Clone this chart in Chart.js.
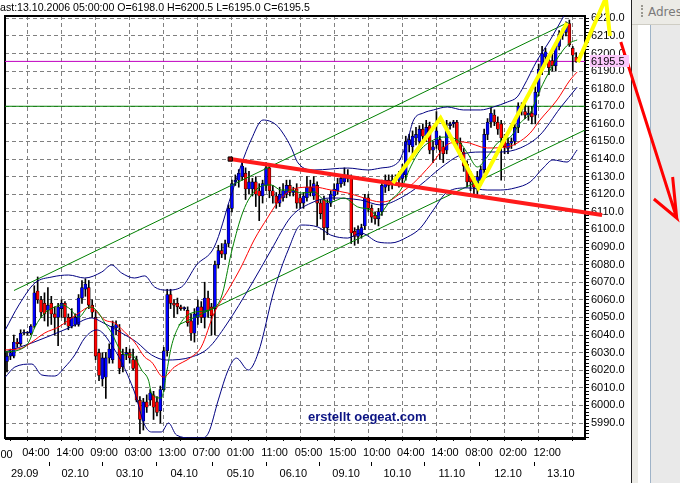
<!DOCTYPE html>
<html>
<head>
<meta charset="utf-8">
<script src="https://cdn.jsdelivr.net/npm/chart.js@4.4.1/dist/chart.umd.min.js"></script>
<style>
html, body { margin: 0; padding: 0; background: #fff; overflow: hidden; }
#wrap { position: relative; width: 680px; height: 483px; }
#side { position: absolute; left: 631px; top: 0; width: 49px; height: 483px; background: #ecebe6; border-left: 1px solid #222; }
#side .bar { position: absolute; left: 0; top: 0; width: 49px; height: 24px; border-bottom: 1px solid #cfcdc4; }
#side .grip { position: absolute; left: 9px; top: 5px; width: 1px; height: 12px; border-left: 2px dotted #9a9890; }
#side .lbl { position: absolute; left: 16px; top: 5px; font: 12px "DejaVu Sans", Tahoma, sans-serif; color: #7a7a7a; white-space: nowrap; }
#side .white { position: absolute; left: 6px; top: 25px; width: 12px; height: 458px; background: #fff; border-right: 1px solid #9fb3c8; }
#side .rest { position: absolute; left: 19px; top: 25px; width: 30px; height: 458px; background: #e9e9e9; }
canvas { position: absolute; left: 0; top: 0; }
</style>
</head>
<body>
<div id="wrap">
  <div id="side">
    <div class="bar"><span class="grip"></span><span class="lbl">Adress</span></div>
    <div class="white"></div>
    <div class="rest"></div>
  </div>
  <canvas id="my-chart" width="680" height="483"></canvas>
</div>
<script>
// hourly candles, 29.09 - 13.10.2006
const opens = [6025,6028,6028,6036,6035,6041,6041,6041,6045,6065,6060,6058,6054,6058,6052,6050,6055,6058,6050,6045,
  6046,6046,6061,6066,6067,6057,6050,6030,6015,6016,6027,6026,6044,6043,6022,6029,6030,6026,6026,6003,
  5991,6002,6003,6006,6002,5997,6009,6031,6063,6058,6058,6056,6055,6054,6048,6041,6050,6056,6050,6061,
  6056,6055,6080,6088,6086,6092,6112,6127,6128,6130,6132,6123,6123,6127,6122,6119,6125,6135,6122,6119,
  6115,6118,6120,6125,6121,6123,6118,6115,6118,6124,6119,6125,6115,6117,6101,6115,6119,6122,6126,6127,
  6131,6129,6099,6096,6097,6102,6118,6112,6108,6106,6110,6124,6128,6126,6128,6128,6129,6131,6148,6147,
  6152,6150,6157,6153,6159,6145,6148,6151,6147,6145,6159,6160,6161,6149,6144,6137,6130,6128,6123,6128,
  6134,6154,6161,6165,6161,6160,6152,6146,6149,6150,6158,6168,6167,6165,6166,6165,6178,6191,6198,6196,
  6196,6193,6204,6210,6212,6217,6203,6198];
const highs = [6030,6032,6040,6038,6043,6043,6042,6046,6068,6073,6062,6064,6067,6062,6056,6058,6060,6059,6052,6055,
  6052,6063,6071,6072,6071,6060,6054,6032,6030,6030,6035,6048,6048,6046,6032,6033,6032,6032,6028,6005,
  6004,6006,6009,6008,6005,6011,6033,6066,6066,6060,6061,6057,6056,6056,6052,6055,6060,6059,6070,6065,
  6058,6082,6091,6092,6094,6114,6128,6131,6134,6138,6135,6133,6129,6130,6126,6128,6138,6137,6125,6121,
  6124,6126,6128,6128,6124,6126,6120,6121,6130,6128,6130,6127,6117,6119,6117,6122,6126,6129,6131,6135,
  6134,6131,6101,6102,6103,6120,6120,6114,6110,6112,6128,6131,6131,6131,6131,6133,6137,6153,6154,6156,
  6158,6159,6160,6162,6161,6150,6167,6153,6150,6162,6161,6162,6162,6152,6146,6139,6133,6130,6133,6136,
  6157,6163,6169,6168,6164,6162,6154,6152,6152,6160,6172,6172,6171,6170,6170,6181,6194,6204,6203,6198,
  6200,6206,6213,6214,6218,6219,6204,6200.5];
const lows = [6019,6026,6027,6033,6034,6040,6040,6040,6044,6058,6050,6048,6045,6046,6040,6034,6050,6046,6043,6044,
  6045,6045,6058,6062,6055,6050,6026,6014,6011,6004,6024,6024,6040,6018,6019,6026,6024,6020,6002,5984,
  5986,5996,6000,5992,5994,5990,6008,6028,6055,6050,6052,6054,6054,6045,6037,6036,6046,6047,6044,6050,
  6040,6040,6078,6084,6083,6090,6110,6125,6124,6128,6117,6120,6119,6113,6105,6115,6122,6118,6115,6112,
  6113,6116,6118,6119,6119,6112,6112,6112,6116,6119,6117,6102,6106,6094,6097,6113,6117,6120,6124,6125,
  6127,6092,6091,6092,6095,6100,6110,6104,6103,6102,6108,6121,6122,6123,6125,6124,6126,6128,6144,6140,
  6148,6147,6151,6150,6143,6138,6146,6140,6138,6143,6157,6158,6146,6141,6133,6124,6122,6119,6120,6125,
  6132,6151,6158,6159,6154,6128,6143,6143,6146,6148,6155,6165,6163,6162,6160,6160,6176,6188,6194,6188,
  6190,6190,6202,6208,6210,6204,6190,6195];
const closes = [6028,6030,6036,6035,6041,6041.5,6041.5,6045,6064,6060,6053,6052,6057,6052,6050,6056,6058,6050,6045,6050,
  6050,6061,6067,6069,6057,6053,6028,6017,6027,6027,6032,6045,6046,6021,6029,6030,6027,6021,6003,5992,
  6002,5999,6007,5999,5996,6009,6031,6063,6058,6057,6056,6055,6055.5,6047,6041,6052,6056,6050,6061,6054,
  6051,6080,6088,6086,6092,6112,6126,6128,6132,6136,6123,6127,6127,6120,6119,6126,6135,6122,6119,6115,
  6120,6122,6125,6121,6122,6115,6115,6119,6124,6121,6126,6115,6109,6101,6115,6120,6123,6126,6129,6131,
  6129,6098,6096,6100,6101,6118,6112,6107,6106,6110,6125,6128,6125,6128,6129,6130,6134,6150,6151,6153,
  6154,6157,6153,6158,6145,6147,6156,6145,6143,6158,6160,6161,6149,6144,6136,6127,6127,6124,6130,6134,
  6154,6161,6166,6161,6157,6152,6147,6149,6150,6158,6170,6170,6165,6166,6164,6178,6191,6200,6201,6192,
  6193,6204,6211,6212,6216,6205,6199,6195.5];

// x axis labels (bar index positions)
const timeTicks = [8.5,18.5,28.5,38.5,48.5,58.5,68.5,78.5,88.5,98.5,108.5,118.5,128.5,138.5,148.5,158.5,168.5];
const timeLabels = ['04:00','14:00','09:00','03:00','13:00','07:00','01:00','11:00','05:00','15:00','10:00','04:00','14:00','08:00','02:00','12:00',''];
const dateTicks = [5.2,20,36,52,68.5,84,99.5,114.5,130.5,147,162.5];
const dateLabels = ['29.09','02.10','03.10','04.10','05.10','06.10','09.10','10.10','11.10','12.10','13.10'];

// indicator lines [bar index, price]
const maRed = [[-0.5,6031.5],[4.4,6032.6],[7.3,6036],[11.1,6041.2],[15.2,6044.6],[18.1,6048.5],[21.1,6052.5],[24.3,6055.9],
  [26.3,6053.1],[28.7,6048.5],[31.6,6046.8],[34.5,6041.7],[37.4,6036],[40.4,6027.5],[42.4,6024.7],[45.9,6016.1],[49.1,6021.8],
  [54.1,6027.5],[57,6033.2],[60.8,6052.5],[64.9,6065.6],[68.7,6078.7],[72.5,6094],[76.6,6107.1],[79.5,6115.6],[83.3,6122.4],
  [85.4,6123.6],[90.1,6124.1],[95,6122.4],[100,6120.7],[104.7,6117.9],[109.7,6115.6],[112.6,6116.7],[115.5,6120.7],[119.3,6126.4],
  [124.3,6136.6],[130.1,6149.1],[133.9,6149.7],[140.9,6146.3],[146.8,6146.9],[149.7,6149.1],[153.5,6154.8],[156.4,6162.2],
  [161.4,6173.6],[165.2,6184.9],[167.3,6189.5]];
const maGreen = [[-0.5,6030.4],[3.5,6031.5],[6.4,6036],[8.2,6044.6],[11.1,6052.5],[14,6055.9],[16.1,6057.1],[18.1,6055.4],
  [21.1,6050.2],[24,6055.9],[25.4,6055.4],[26.9,6052.5],[28.7,6046.8],[30.7,6041.2],[32.7,6033.2],[34.5,6028.7],[36.5,6028.7],
  [37.4,6027.5],[39.5,6020.1],[41.5,6014.4],[42.4,6007],[45.3,6004.2],[46.8,6018.4],[48.2,6033.2],[50.3,6044.6],[54.1,6052.5],
  [59.1,6054.2],[62.9,6061.6],[65.8,6086.6],[68.7,6107.1],[70.8,6116.7],[73.7,6123.6],[77.5,6125.3],[80.4,6122.4],[83.3,6122.4],
  [86.3,6120.7],[90.1,6121.3],[93,6116.7],[95,6115.6],[98.8,6117.9],[102.9,6112.8],[106.7,6111],[108.8,6107.1],[110.5,6111],
  [112.6,6116.7],[115.5,6122.4],[118.4,6135.5],[121.3,6145.2],[125.1,6150.8],[128.1,6152.5],[132.2,6150.8],[135.1,6143.4],
  [138,6135.5],[140.9,6141.2],[143.9,6149.1],[147.7,6152.5],[150.6,6160.5],[153.5,6166.2],[156.4,6179.3],[159.4,6190.6],
  [163.2,6202],[165.2,6206],[167.3,6207.7]];
const bandUpper = [[-0.5,6042.9],[3.5,6057.1],[8.2,6069.6],[13.2,6073],[18.1,6074.1],[22.8,6072.4],[27.8,6075.8],[30.7,6079.8],
  [33.6,6075.3],[37.4,6072.4],[40.4,6073.6],[43.3,6067.3],[46.8,6065.5],[51.2,6067.3],[55.6,6079.8],[60.8,6090],[65.8,6119.6],
  [68.7,6136.6],[71.6,6150.8],[75.1,6162.2],[79,6159.4],[81.3,6153.7],[83.3,6146.9],[85.4,6137.8],[90.1,6133.8],[100,6134.9],
  [105.9,6133.8],[109.7,6134.9],[114.6,6137.8],[117.5,6150.8],[119.3,6162.2],[122.2,6166.2],[125.1,6167.9],[129.2,6169.6],
  [133.9,6167.9],[138.9,6167.9],[142.7,6169.6],[146.8,6172.4],[149.7,6175.3],[151.5,6181],[155.6,6196.3],[159.4,6207.7],
  [163.2,6220.7],[165.8,6229.3]];
const bandMid = [[-0.5,6030.4],[7.3,6035.5],[18.1,6044],[24.9,6049.7],[27.8,6047.4],[33.6,6041.2],[38,6036],[42.4,6028.7],
  [46.8,6025.8],[54.1,6027.5],[59.1,6032.6],[64.3,6045.7],[71.6,6068.4],[77.5,6088.3],[83.3,6107.1],[89.2,6115],[95,6117.9],
  [103.8,6116.7],[109.7,6113.9],[115.5,6117.9],[121.3,6125.3],[127.2,6134.9],[133,6142.3],[138.9,6144],[144.7,6144],
  [150.6,6146.3],[156.4,6153.7],[162.3,6169],[167.3,6180.9]];
const bandLower = [[-0.5,6016.1],[2.3,6021.8],[7.3,6023.5],[10.2,6017.3],[14,6016.7],[17,6021.8],[19.9,6028.7],[22.8,6038.3],
  [26.3,6042.9],[27.8,6041.7],[30.7,6034.3],[33.6,6024.7],[37.4,6007.6],[40.4,5988.9],[42.4,5984.9],[45.3,5984.9],[47.4,5990],
  [49.7,5983.2],[54.1,5981.5],[57,5981.5],[59.1,5984.3],[62,6003.1],[64.9,6020.1],[67.3,6026.9],[70.8,6020.1],[73.7,6029.8],
  [78.4,6065.6],[82.5,6088.3],[86.3,6102.5],[91.2,6101.4],[95,6096.8],[100,6095.1],[103.8,6098],[108.8,6092.9],[112.6,6092.3],
  [117.5,6095.7],[121.3,6100.8],[125.1,6111.1],[129.2,6121.3],[135.1,6123.6],[140.9,6122.4],[144.7,6122.4],[149.1,6123.6],
  [153.5,6127],[157.3,6134.9],[160.2,6139.5],[164.3,6138.3],[167.3,6145.2]];

// hand-drawn lines [bar index, price]
const channelUp = [[2.05,6065.3],[164.6,6217.6]];
const channelDown = [[50.3,6045.7],[169.59,6156.5]];
const trendRed = [[65.5,6140],[174.6,6108.2]];
const zigzag = [[113.2,6126.4],[127.2,6163.3],[138.3,6123.6],[164.3,6217.3]];
const zigzagEnd = [[176.9,6209.9],[175.7,6231.5],[167.5,6195.1]];
const arrow = [[180.1,6206.5],[196.5,6106.5],[189.8,6117.3],[196.5,6106.5],[195.3,6129.8]];
const levelMagenta = 6195.5;
const levelGreen = 6170;

const headerText = 'ast:13.10.2006 05:00:00 O=6198.0 H=6200.5 L=6195.0 C=6195.5';
const watermark = 'erstellt oegeat.com';

const X_MIN = -0.585, X_MAX = 169.59;
const FONT = '"Liberation Sans", Arial, sans-serif';

const pts = a => a.map(p => ({x: p[0], y: p[1]}));
const idx = closes.map((c, i) => i);
const minorTicks = timeTicks.map(v => v - 5);
const labelAt = {};
timeTicks.forEach((v, i) => { labelAt[v] = timeLabels[i]; });

function line(data, color, width, order, extra) {
  return Object.assign({
    type: 'line', data: pts(data), borderColor: color, borderWidth: width,
    pointRadius: 0, fill: false, order: order
  }, extra || {});
}

const decor = {
  id: 'decor',
  beforeDatasetsDraw(chart) {
    const {ctx, chartArea: a, scales} = chart;
    ctx.save();
    ctx.font = 'bold 13px ' + FONT;
    ctx.fillStyle = '#0c1484';
    ctx.textBaseline = 'alphabetic';
    ctx.fillText(watermark, 308, 421);
    ctx.strokeStyle = '#000';
    ctx.lineWidth = 2;
    ctx.strokeRect(a.left, a.top, a.right - a.left, a.bottom - a.top);
    ctx.lineWidth = 3;
    ctx.beginPath();
    ctx.moveTo(a.left, a.bottom + 0.5);
    ctx.lineTo(a.right + 1, a.bottom + 0.5);
    ctx.stroke();
    // partial first time label
    ctx.font = '11px ' + FONT;
    ctx.fillStyle = '#000';
    ctx.textAlign = 'center';
    ctx.fillText('00:00', scales.x.getPixelForValue(-1.5) - 3, 458);
    ctx.restore();
  },
  afterDraw(chart) {
    const {ctx, scales} = chart;
    ctx.save();
    ctx.font = '10.6px ' + FONT;
    ctx.fillStyle = '#000';
    ctx.textBaseline = 'alphabetic';
    ctx.fillText(headerText, 0, 11);
    const y = scales.y.getPixelForValue(closes[closes.length - 1]);
    ctx.font = '11px ' + FONT;
    ctx.fillStyle = '#fcc8fc';
    ctx.fillRect(590, Math.round(y) - 6, 39, 12);
    ctx.fillStyle = '#000';
    ctx.textBaseline = 'middle';
    ctx.fillText(closes[closes.length - 1].toFixed(1), 591, y + 0.5);
    ctx.restore();
  }
};

const ctx = document.getElementById('my-chart').getContext('2d');
const chart = new Chart(ctx, {
  type: 'bar',
  data: {
    datasets: [
      line(zigzag, '#ffff00', 4, 0, {clip: false}),
      line(zigzagEnd, '#ffff00', 4, 0, {clip: false}),
      line(arrow, '#ff0000', 3, 1, {clip: false}),
      line(trendRed, '#ff1a1a', 4, 1, {
        clip: false,
        pointRadius: c => c.dataIndex === 0 ? 3 : 0,
        pointStyle: 'rect', pointBackgroundColor: '#a00000', pointBorderColor: '#000', pointBorderWidth: 1
      }),
      line(maGreen, '#008000', 1, 2, {cubicInterpolationMode: 'monotone'}),
      line(maRed, '#ff0000', 1, 3, {cubicInterpolationMode: 'monotone'}),
      line(bandMid, '#000080', 1, 4, {cubicInterpolationMode: 'monotone'}),
      line(bandUpper, '#000080', 1, 4, {cubicInterpolationMode: 'monotone'}),
      line(bandLower, '#000080', 1, 4, {cubicInterpolationMode: 'monotone'}),
      line(channelUp, '#008000', 1, 5),
      line(channelDown, '#008000', 1, 5),
      {
        type: 'bar', label: 'bodies', order: 6, grouped: false,
        data: idx.map(i => ({x: i, y: [opens[i], closes[i]]})),
        backgroundColor: idx.map(i => closes[i] >= opens[i] ? '#0000ff' : '#ff0000'),
        borderColor: '#000', borderWidth: 0.6, borderSkipped: false,
        barThickness: 3, minBarLength: 1
      },
      {
        type: 'bar', label: 'wicks', order: 7, grouped: false,
        data: idx.map(i => ({x: i, y: [lows[i], highs[i]]})),
        backgroundColor: '#000', barThickness: 1, minBarLength: 1
      },
      line([[X_MIN, levelMagenta], [X_MAX, levelMagenta]], '#c000c0', 1, 8),
      line([[X_MIN, levelGreen], [X_MAX, levelGreen]], '#008000', 1, 8)
    ]
  },
  options: {
    responsive: false,
    animation: false,
    devicePixelRatio: 1,
    layout: {padding: {left: 3, top: 16, right: 0, bottom: 0}},
    plugins: {legend: {display: false}, tooltip: {enabled: false}},
    scales: {
      x: {
        type: 'linear', position: 'bottom', weight: 0, min: X_MIN, max: X_MAX, offset: false,
        afterBuildTicks: s => { s.ticks = minorTicks.concat(timeTicks).sort((a, b) => a - b).map(v => ({value: v})); },
        afterFit: s => { s.height = 24; },
        ticks: {
          autoSkip: false, maxRotation: 0, padding: 5, color: '#000',
          font: {family: FONT, size: 11},
          callback: v => labelAt[v] !== undefined ? labelAt[v] : ''
        },
        grid: {
          color: c => (c.tick && labelAt[c.tick.value] !== undefined) ? '#808080' : 'rgba(0,0,0,0)',
          tickColor: '#000', tickLength: 3, lineWidth: 1
        },
        border: {display: false, dash: [4, 3]}
      },
      x2: {
        type: 'linear', position: 'bottom', weight: 1, min: X_MIN, max: X_MAX, offset: false,
        afterBuildTicks: s => { s.ticks = dateTicks.map(v => ({value: v})); },
        afterFit: s => { s.height = 21; },
        ticks: {
          autoSkip: false, maxRotation: 0, padding: 1, color: '#000',
          font: {family: FONT, size: 11},
          callback: (v, i) => dateLabels[i]
        },
        grid: {drawOnChartArea: false, tickColor: '#000', tickLength: 4},
        border: {display: false}
      },
      y: {
        type: 'linear', position: 'right', min: 5981.48, max: 6221.3,
        afterBuildTicks: s => {
          const t = [];
          for (let v = 5982; v <= 6220; v += 2) t.push({value: v});
          s.ticks = t;
        },
        afterFit: s => { s.width = 95; },
        ticks: {
          autoSkip: false, padding: 2, color: '#000',
          font: {family: FONT, size: 11},
          callback: v => (Math.round(v) % 10 === 0) ? v.toFixed(1) : ''
        },
        grid: {
          color: c => (c.tick && Math.round(c.tick.value) % 10 === 0) ? '#808080' : 'rgba(0,0,0,0)',
          tickColor: '#000', tickLength: 4
        },
        border: {display: false, dash: [4, 3]}
      }
    }
  },
  plugins: [decor]
});
</script>
</body>
</html>
